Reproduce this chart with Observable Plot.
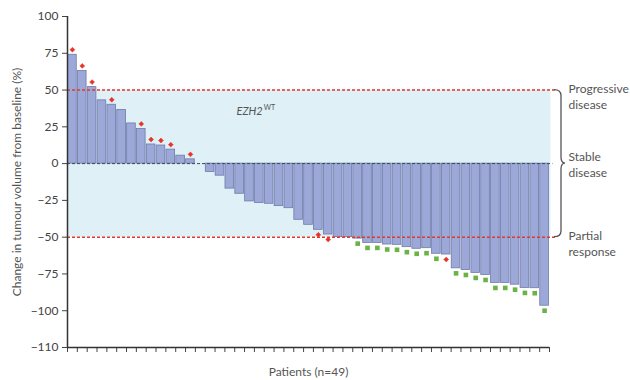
<!DOCTYPE html>
<html>
<head>
<meta charset="utf-8">
<script src="https://cdn.jsdelivr.net/npm/d3@7"></script>
<script src="https://cdn.jsdelivr.net/npm/@observablehq/plot@0.6"></script>
<style>
  html, body { margin: 0; padding: 0; background: #fff; }
  #chart { width: 630px; height: 380px; }
</style>
</head>
<body>
<div id="chart"></div>
<script>
// Change in tumour volume from baseline (%), one value per patient (sorted)
const changes = [74, 63, 52, 43, 40, 36.5, 27.3, 23.6, 13, 12.3, 9.5, 5.4, 2.9, 0,
  -5.7, -8.2, -17, -20.5, -25.7, -26.8, -27.3, -28.9, -30.3, -38.2, -41.6, -45, -48.2,
  -50, -50, -51, -53.9, -53.9, -55, -55.2, -56.8, -57.9, -57.5, -61.3, -61.8,
  -71.2, -72.3, -74.3, -75.7, -81.1, -81.1, -82.3, -84.5, -84.7, -96.6];
// Marker per patient: "red" diamond, "green" square, or "" none
const markers = ["red", "red", "red", "", "red", "", "", "red", "red", "red", "red", "", "red", "",
  "", "", "", "", "", "", "", "", "", "", "", "red", "red",
  "", "", "green", "green", "green", "green", "green", "green", "green", "green", "green", "red",
  "green", "green", "green", "green", "green", "green", "green", "green", "green", "green"];
const thresholds = [50, -50];
const yTicks = [100, 75, 50, 25, 0, -25, -50, -75, -100, -125];
const yTickLabels = ["100", "75", "50", "25", "0", "\u221225", "\u221250", "\u221275", "\u2212100", "\u2212110"];
const zones = [
  {y: 50, label: "Progressive\ndisease"},
  {y: 0, label: "Stable\ndisease"},
  {y: -50, label: "Partial\nresponse"}
];
const groupLabel = "EZH2";
const groupSup = "WT";

const n = changes.length;
const patients = changes.map((v, i) => ({i, v, m: markers[i]}));
const xTicks = d3.range(0, n + 1);

const brace = (index, scales) => {
  const x = scales.x, y = scales.y;
  const x0 = x(n) + 12, yt = y(thresholds[0]), ym = y(0), yb = y(thresholds[1]);
  const xs = x(n) + 5;
  const d = `M${xs},${yt} Q${x0},${yt} ${x0},${yt + 6} L${x0},${ym - 6} Q${x0},${ym} ${x0 + 4},${ym} Q${x0},${ym} ${x0},${ym + 6} L${x0},${yb - 6} Q${x0},${yb} ${xs},${yb}`;
  return d3.create("svg:path")
    .attr("d", d).attr("fill", "none").attr("stroke", "#555").attr("stroke-width", 1.3).node();
};

const zoneText = {x: n, y: "y", text: "label", dx: 19, textAnchor: "start", lineHeight: 1.35, fill: "#555", fontSize: 12};

const chart = Plot.plot({
  width: 630,
  height: 380,
  marginLeft: 67,
  marginRight: 81,
  marginTop: 16,
  marginBottom: 33,
  style: {fontFamily: "Lato, 'Open Sans', sans-serif", fontSize: "12px", color: "#444", background: "#fff"},
  x: {type: "linear", domain: [0, n], axis: "bottom", ticks: xTicks, tickFormat: () => "", tickSize: 5, label: null},
  y: {type: "linear", domain: [-125, 100], axis: "left", ticks: yTicks, tickFormat: d => yTickLabels[yTicks.indexOf(d)], tickSize: 5, tickPadding: 4, label: null},
  marks: [
    Plot.rect([{y1: thresholds[1], y2: thresholds[0]}], {x1: 0, x2: n + 0.15, y1: "y1", y2: "y2", fill: "#dff0f7"}),
    Plot.rectY(patients, {x1: d => d.i, x2: d => d.i + 1, y1: 0, y2: "v",
      fill: "#9ca9d8", stroke: "#6f7aa8", strokeWidth: 0.8, insetLeft: 0.6, insetRight: 0.6}),
    Plot.ruleY([0], {x1: 0, x2: n + 0.35, stroke: "#3a4a5a", strokeDasharray: "3,2", strokeWidth: 1}),
    Plot.ruleY(thresholds, {x1: 0, x2: n + 0.6, stroke: "#e0392f", strokeDasharray: "3,2", strokeWidth: 1.5}),
    Plot.dot(patients.filter(d => d.m === "red" && d.v >= 0), {x: d => d.i + 0.5, y: "v", dy: -5, symbol: "diamond2", r: 2.2, fill: "#e8332a", stroke: "#e8332a", strokeWidth: 0.5}),
    Plot.dot(patients.filter(d => d.m === "red" && d.v < 0), {x: d => d.i + 0.5, y: "v", dy: 5, symbol: "diamond2", r: 2.2, fill: "#e8332a", stroke: "#e8332a", strokeWidth: 0.5}),
    Plot.dot(patients.filter(d => d.m === "green"), {x: d => d.i + 0.5, y: "v", dy: 5, symbol: "square", r: 2.6, fill: "#6ab347"}),
    // axis lines
    Plot.ruleX([0], {y1: -125, y2: 100, stroke: "#333", strokeWidth: 1.5}),
    Plot.ruleY([-125], {x1: 0, x2: n, stroke: "#333", strokeWidth: 1.5}),
    Plot.text(["Change in tumour volume from baseline (%)"], {x: 0, y: -12.5, dx: -50, rotate: -90, fill: "#555", fontSize: 12}),
    Plot.text(["Patients (n=49)"], {x: n / 2, y: -125, dy: 25, fill: "#555", fontSize: 12}),
    Plot.text(zones.filter(d => d.y !== 0), {...zoneText, dy: 6}),
    Plot.text(zones.filter(d => d.y === 0), {...zoneText, dy: 0}),
    Plot.text([groupLabel], {x: 19.85, y: 35.2, textAnchor: "end", fontStyle: "italic", fill: "#555", fontSize: 11}),
    Plot.text([groupSup], {x: 19.85, y: 35.2, dx: 1, dy: -4, textAnchor: "start", fill: "#555", fontSize: 7}),
    brace
  ]
});
document.getElementById("chart").appendChild(chart);
</script>
</body>
</html>
